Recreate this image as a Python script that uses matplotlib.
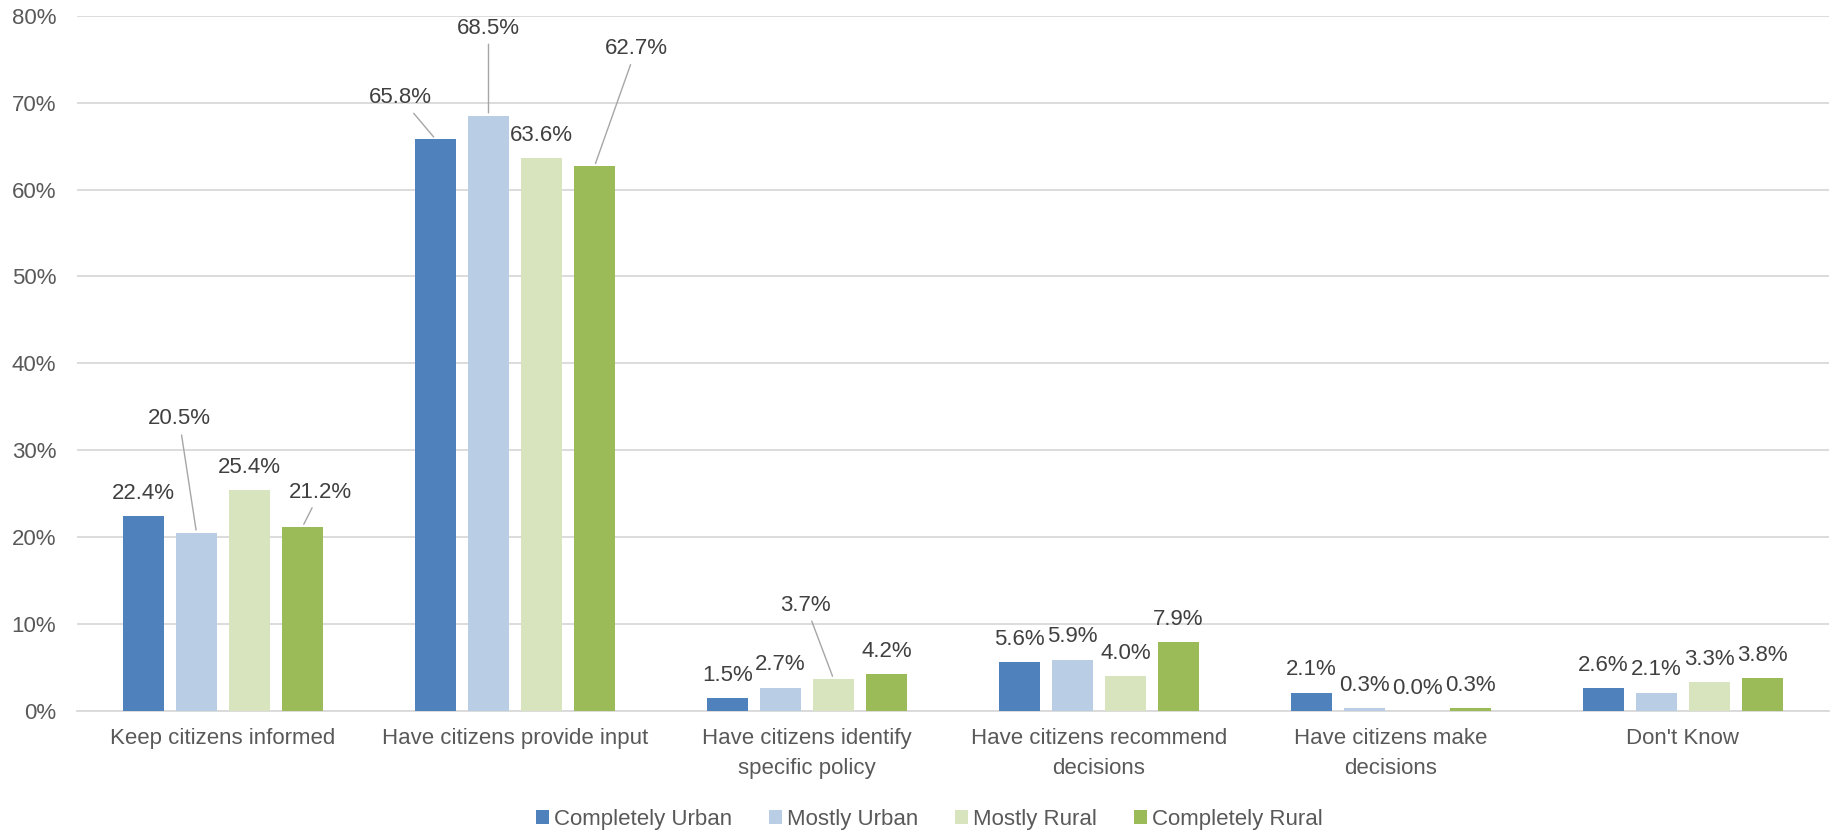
import matplotlib
matplotlib.use("Agg")
import matplotlib.pyplot as plt
import numpy as np

plt.rcParams["font.family"] = ["Liberation Sans", "DejaVu Sans"]

categories = ["Keep citizens informed", "Have citizens provide input",
              "Have citizens identify\nspecific policy", "Have citizens recommend\ndecisions",
              "Have citizens make\ndecisions", "Don't Know"]
series_names = ["Completely Urban", "Mostly Urban", "Mostly Rural", "Completely Rural"]

completely_urban = [22.4, 65.8, 1.5, 5.6, 2.1, 2.6]
mostly_urban = [20.5, 68.5, 2.7, 5.9, 0.3, 2.1]
mostly_rural = [25.4, 63.6, 3.7, 4.0, 0.0, 3.3]
completely_rural = [21.2, 62.7, 4.2, 7.9, 0.3, 3.8]

yticks = [0, 10, 20, 30, 40, 50, 60, 70, 80]
ytick_labels = ["0%", "10%", "20%", "30%", "40%", "50%", "60%", "70%", "80%"]

colors = ["#4F81BD", "#B9CDE5", "#D7E4BD", "#9BBB59"]

# labels that Excel moved away from the bar, (series, category) -> offset in points
moved = {
    (1, 0): (-12.5, 82),
    (3, 0): (12.6, 25),
    (0, 1): (-25, 29.7),
    (1, 1): (0, 63),
    (3, 1): (30, 84.5),
    (2, 2): (-20, 53),
}

fig = plt.figure(figsize=(18.33, 8.33), dpi=100)
ax = fig.add_axes([77 / 1833, 1 - 711 / 833, (1829 - 77) / 1833, (711 - 15.7) / 833])

x = np.arange(len(categories))
width = 0.142
step = 0.1816
all_series = [completely_urban, mostly_urban, mostly_rural, completely_rural]

for j, vals in enumerate(all_series):
    xs = x + (j - 1.5) * step
    ax.bar(xs, vals, width=width, color=colors[j], label=series_names[j], zorder=3)
    for i, v in enumerate(vals):
        if (j, i) in moved:
            dx, dy = moved[(j, i)]
            ax.annotate(f"{v:.1f}%", xy=(xs[i], v), xytext=(dx, dy), textcoords="offset points",
                        ha="center", va="center", fontsize=16, color="#404040",
                        arrowprops=dict(arrowstyle="-", color="#a6a6a6", lw=1))
        else:
            ax.annotate(f"{v:.1f}%", xy=(xs[i], v), xytext=(0, 16.5), textcoords="offset points",
                        ha="center", va="center", fontsize=16, color="#404040")

ax.set_xlim(-0.5, len(categories) - 0.5)
ax.set_ylim(0, 80)
ax.set_yticks(yticks)
ax.set_yticklabels(ytick_labels)
ax.set_xticks(x)
ax.set_xticklabels(categories, linespacing=1.6)
ax.tick_params(axis="both", length=0, labelsize=16, labelcolor="#595959")
ax.tick_params(axis="y", pad=15)
ax.tick_params(axis="x", pad=12)
ax.grid(axis="y", color="#d9d9d9", lw=1.3, zorder=0)
for s in ["top", "right", "left"]:
    ax.spines[s].set_visible(False)
ax.spines["bottom"].set_color("#d9d9d9")
ax.spines["bottom"].set_linewidth(1.3)

fig.legend(loc="center", bbox_to_anchor=(929.5 / 1833, 1 - 819.5 / 833), ncol=4, frameon=False,
           fontsize=16, handlelength=0.59, handleheight=0.59, handletextpad=0.23,
           columnspacing=1.65, borderpad=0, labelcolor="#595959")

fig.savefig("out.png", dpi=100)
